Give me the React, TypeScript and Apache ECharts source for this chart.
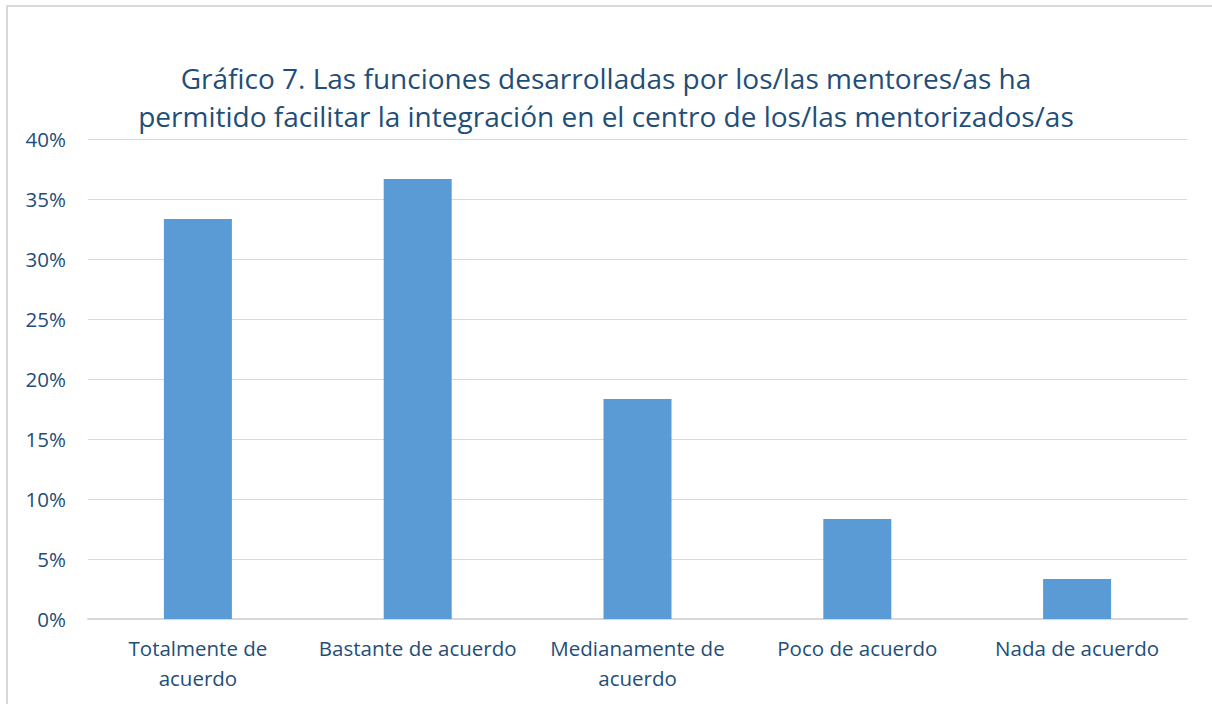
import React, { useEffect, useRef } from "react";
import * as echarts from "echarts";

const categories = [
  "Totalmente de\nacuerdo",
  "Bastante de acuerdo",
  "Medianamente de\nacuerdo",
  "Poco de acuerdo",
  "Nada de acuerdo",
];
const values = [33.33, 36.67, 18.33, 8.33, 3.33];
const titleLines = [
  "Gráfico 7. Las funciones desarrolladas por los/las mentores/as ha",
  "permitido facilitar la integración en el centro de los/las mentorizados/as",
];

const FONT = "'Open Sans', 'Noto Sans', sans-serif";
const TEXT = "#1f4e79";

export default function App() {
  const ref = useRef<HTMLDivElement>(null);
  useEffect(() => {
    if (!ref.current) return;
    const chart = echarts.init(ref.current, undefined, { renderer: "svg" });
    chart.setOption({
      animation: false,
      backgroundColor: "#ffffff",
      title: {
        text: titleLines.join("\n"),
        left: "center",
        top: 59,
        textStyle: {
          fontFamily: FONT,
          fontSize: 28,
          fontWeight: "normal",
          color: TEXT,
          lineHeight: 38,
        },
        padding: 0,
      },
      graphic: [
        {
          type: "rect",
          shape: { x: 7, y: 6, width: 1230, height: 730 },
          style: { fill: "none", stroke: "#d9d9d9", lineWidth: 2 },
          silent: true,
        },
      ],
      grid: { left: 88, right: 25, top: 139, bottom: 85, containLabel: false },
      xAxis: {
        type: "category",
        data: categories,
        axisLine: { show: true, lineStyle: { color: "#d9d9d9", width: 2 } },
        axisTick: { show: false },
        axisLabel: {
          fontFamily: FONT,
          fontSize: 20.5,
          color: TEXT,
          lineHeight: 30,
          margin: 14,
          interval: 0,
        },
      },
      yAxis: {
        type: "value",
        min: 0,
        max: 40,
        interval: 5,
        axisLine: { show: false },
        axisTick: { show: false },
        splitLine: { lineStyle: { color: "#d9d9d9", width: 1 } },
        axisLabel: {
          fontFamily: FONT,
          fontSize: 20.5,
          color: TEXT,
          margin: 22,
          formatter: (v: number) => v + "%",
        },
      },
      series: [
        {
          type: "bar",
          data: values,
          barWidth: 68,
          itemStyle: { color: "#5b9bd5" },
        },
      ],
    });
    return () => chart.dispose();
  }, []);
  return (
    <div
      ref={ref}
      style={{ position: "fixed", left: 0, top: 0, width: 1212, height: 704 }}
    />
  );
}
